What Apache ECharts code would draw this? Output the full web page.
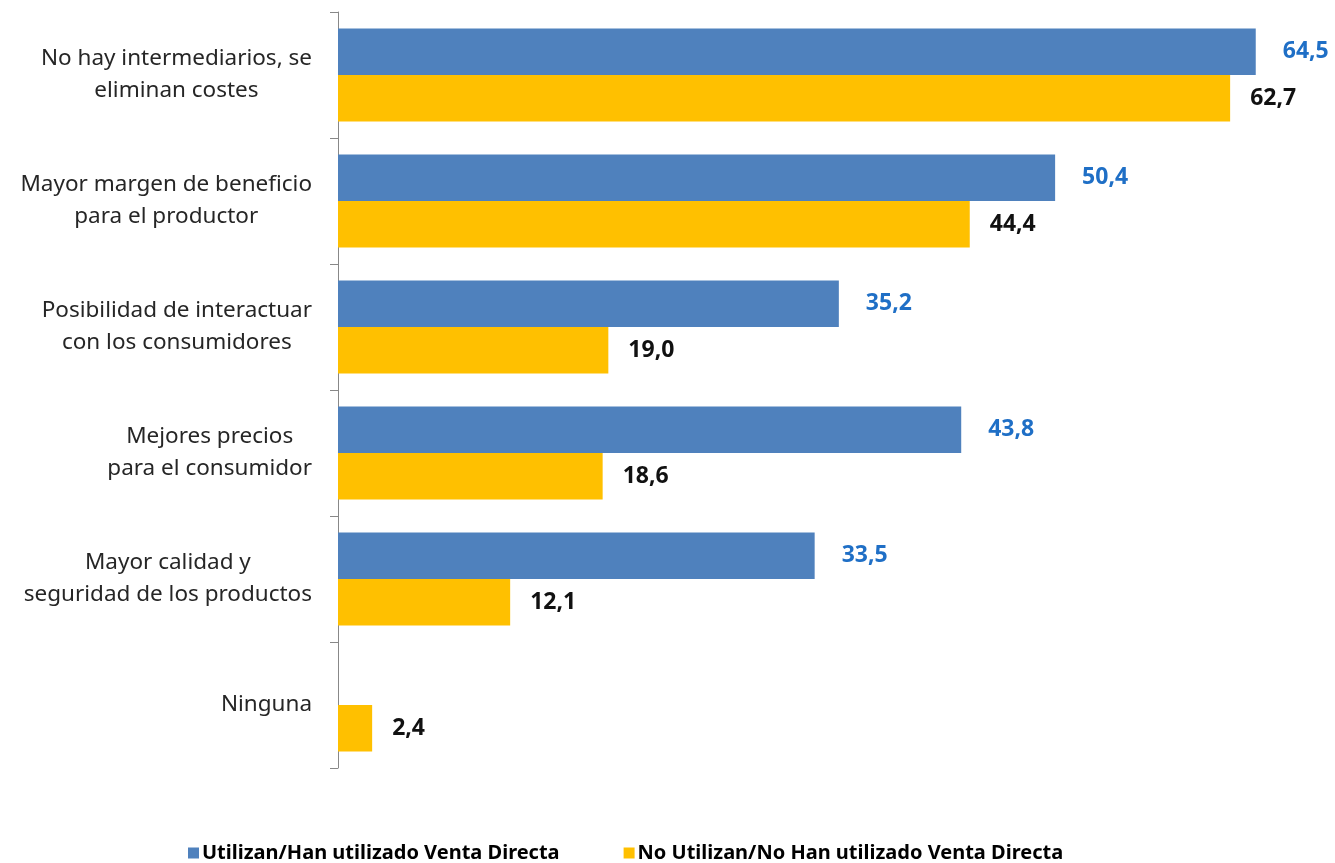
<!DOCTYPE html>
<html>
<head>
<meta charset="utf-8">
<script src="https://cdn.jsdelivr.net/npm/echarts@6/dist/echarts.min.js"></script>
<style>
html,body{margin:0;padding:0;background:#fff;}
#chart{width:1335px;height:863px;}
</style>
</head>
<body>
<div id="chart"></div>
<script>
const categories = [
  "No hay intermediarios, se\neliminan costes",
  "Mayor margen de beneficio\npara el productor",
  "Posibilidad de interactuar\ncon los consumidores",
  "Mejores precios\npara el consumidor",
  "Mayor calidad y\nseguridad de los productos",
  "Ninguna"
];
const seriesNames = ["Utilizan/Han utilizado Venta Directa", "No Utilizan/No Han utilizado Venta Directa"];
const usanValues = [64.5, 50.4, 35.2, 43.8, 33.5, null];
const noUsanValues = [62.7, 44.4, 19.0, 18.6, 12.1, 2.4];

const FONT = "Noto Sans";
const chart = echarts.init(document.getElementById('chart'));
const fmt = p => p.value == null ? '' : p.value.toFixed(1).replace('.', ',');
chart.setOption({
  animation: false,
  backgroundColor: '#fff',
  grid: {left: 338, right: 1, top: 12, bottom: 95, containLabel: false},
  legend: {
    left: 183, top: 838, itemWidth: 11, itemHeight: 11, itemGap: 64,
    icon: 'rect',
    textStyle: {fontFamily: FONT, fontWeight: 'bold', fontSize: 20, color: '#000', padding: [0,0,0,-2]},
    data: seriesNames
  },
  xAxis: {
    type: 'value', min: 0, max: 70, show: false
  },
  yAxis: {
    type: 'category', inverse: true, data: categories,
    axisLine: {show: true, lineStyle: {color: '#888', width: 1}},
    axisTick: {show: true, length: 8, lineStyle: {color: '#888'}},
    splitLine: {show: false},
    axisLabel: {
      margin: 26, align: 'right',
      fontFamily: FONT, fontSize: 22.5, color: '#262626', lineHeight: 32,
      formatter: v => v.split('\n').map(s => '{c|' + s + '}').join('\n'),
      rich: {c: {align: 'center', fontFamily: FONT, fontSize: 22.5, color: '#262626', lineHeight: 32}}
    }
  },
  series: [
    {
      name: seriesNames[0], type: 'bar', data: usanValues,
      barGap: '0%', barCategoryGap: '26%',
      itemStyle: {color: '#4F81BD'},
      label: {show: true, position: 'right', distance: 27, formatter: fmt,
        fontFamily: FONT, fontWeight: 'bold', fontSize: 23, color: '#1F6FC6'}
    },
    {
      name: seriesNames[1], type: 'bar', data: noUsanValues,
      barGap: '0%', barCategoryGap: '26%',
      itemStyle: {color: '#FFC000'},
      label: {show: true, position: 'right', distance: 20, formatter: fmt,
        fontFamily: FONT, fontWeight: 'bold', fontSize: 23, color: '#111'}
    }
  ]
});
</script>
</body>
</html>
